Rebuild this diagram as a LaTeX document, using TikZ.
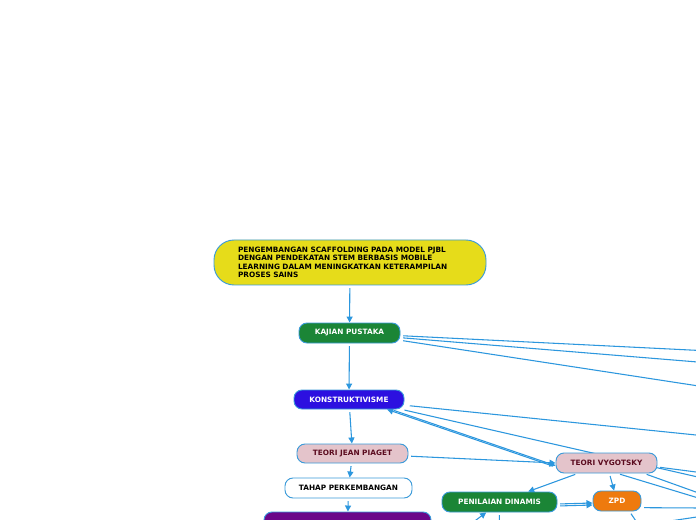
\documentclass[tikz,border=0pt]{standalone}
\usepackage{fontspec}
\newfontfamily\vfont{DejaVu Sans}
\usetikzlibrary{arrows.meta}
\pgfdeclarelayer{bottom}
\pgfdeclarelayer{edges}
\pgfsetlayers{bottom,edges,main}
\definecolor{edgeblue}{RGB}{44,151,222}
\definecolor{bordblue}{RGB}{58,154,217}
\definecolor{titleyellow}{RGB}{230,220,26}
\definecolor{kgreen}{RGB}{27,133,54}
\definecolor{kviolet}{RGB}{44,16,224}
\definecolor{kpink}{RGB}{228,196,203}
\definecolor{kmaroon}{RGB}{91,11,31}
\definecolor{kpurple}{RGB}{107,7,137}
\definecolor{korange}{RGB}{238,122,14}
\tikzset{
  box/.style={draw=bordblue, line width=0.7pt, rounded corners=6pt, inner sep=0pt,
    font=\vfont\bfseries\fontsize{5.5}{6.4}\selectfont, align=center},
  conn/.style={draw=edgeblue, line width=0.8pt, shorten <=2pt},
  arr/.style={conn, -{Triangle[length=4.5pt,width=4.5pt]}},
}
\begin{document}
\begin{tikzpicture}[x=0.75pt,y=-0.75pt]
\useasboundingbox (0,0) rectangle (696,520);
\clip (0,0) rectangle (696,520);
\begin{pgfonlayer}{bottom}
\fill[white] (0,0) rectangle (696,520);
\end{pgfonlayer}
% nodes
\node[box, fill=titleyellow, text=black, rounded corners=15pt, minimum width=204pt, minimum height=33.75pt,
  text width=168pt, align=left] (title) at (350,262.5)
  {PENGEMBANGAN SCAFFOLDING PADA MODEL PJBL\\DENGAN PENDEKATAN STEM BERBASIS MOBILE\\LEARNING DALAM MENINGKATKAN KETERAMPILAN\\PROSES SAINS};
\node[box, fill=kgreen, text=white, minimum width=75.75pt, minimum height=15pt] (kajian) at (349.5,333) {KAJIAN PUSTAKA};
\node[box, fill=kviolet, text=white, minimum width=82.5pt, minimum height=14.25pt] (konst) at (349,399.5) {KONSTRUKTIVISME};
\node[box, fill=kpink, text=kmaroon, minimum width=83.25pt, minimum height=14.25pt] (piaget) at (352.5,453.5) {TEORI JEAN PIAGET};
\node[box, fill=white, text=black, minimum width=95.25pt, minimum height=15pt] (tahap) at (348.5,488) {TAHAP PERKEMBANGAN};
\node[box, fill=kpurple, text=white, minimum width=125.25pt, minimum height=24pt] (purple) at (347.5,528) {};
\node[box, fill=kpink, text=kmaroon, minimum width=75.75pt, minimum height=15pt] (vygot) at (606.5,463) {TEORI VYGOTSKY};
\node[box, fill=kgreen, text=white, minimum width=86.25pt, minimum height=15pt] (penil) at (499.5,502) {PENILAIAN DINAMIS};
\node[box, fill=korange, text=white, minimum width=36pt, minimum height=15pt] (zpd) at (617,501) {ZPD};
% off-canvas coordinates
\coordinate (k1) at (700,350.5);
\coordinate (k2) at (700,362.2);
\coordinate (k3) at (700,386.2);
\coordinate (c1) at (700,435.4);
\coordinate (c2) at (700,477.5);
\coordinate (v1) at (700,472.5);
\coordinate (v2) at (700,493.5);
\coordinate (v3) at (700,498.5);
\coordinate (z1) at (700,508);
\coordinate (z2) at (640,527);
\coordinate (b1) at (650,524);
\coordinate (b2) at (700,516.5);
\coordinate (p1) at (468,526);
\coordinate (p2) at (499,530);
% connectors (behind nodes)
\begin{pgfonlayer}{edges}
\draw[arr] (title) -- (kajian);
\draw[arr] (kajian) -- (konst);
\draw[arr] (konst) -- (piaget);
\draw[arr] (piaget) -- (tahap);
\draw[arr] (tahap) -- (purple);
\draw[conn] ([yshift=-2pt]kajian.east) -- (k1);
\draw[conn] ([yshift=-3.5pt]kajian.east) -- (k2);
\draw[conn] ([yshift=-5.5pt]kajian.east) -- (k3);
\draw[conn] ([xshift=2pt,yshift=-4.5pt]konst.east) -- (c1);
\draw[conn] ([xshift=-2pt]konst.south east) -- (c2);
\draw[arr] ([xshift=-10pt]konst.south east) -- ([yshift=-2pt]vygot.west);
\draw[arr] ([yshift=-3pt]vygot.west) -- ([xshift=-13pt]konst.south east);
\draw[arr] (piaget) -- (vygot.west);
\draw[arr] (vygot) -- (penil);
\draw[arr] (vygot) -- (zpd);
\draw[arr] ([yshift=-1.5pt]penil.east) -- ([yshift=-1.5pt]zpd.west);
\draw[arr] ([yshift=-3pt]penil.east) -- ([yshift=-3pt]zpd.west);
\draw[conn] ([yshift=-3pt]vygot.east) -- (v1);
\draw[conn] ([xshift=-30pt]vygot.south east) -- (v3);
\draw[conn] ([xshift=-10pt]vygot.south east) -- (v2);
\draw[conn] ([yshift=-5pt]zpd.east) -- (z1);
\draw[conn] ([xshift=-9pt]zpd.south east) -- (z2);
\draw[conn] (b1) -- (b2);
\draw[arr] (p1) -- ([xshift=-10pt]penil.south);
\draw[conn] (penil.south) -- (p2);
\end{pgfonlayer}
\end{tikzpicture}
\end{document}
